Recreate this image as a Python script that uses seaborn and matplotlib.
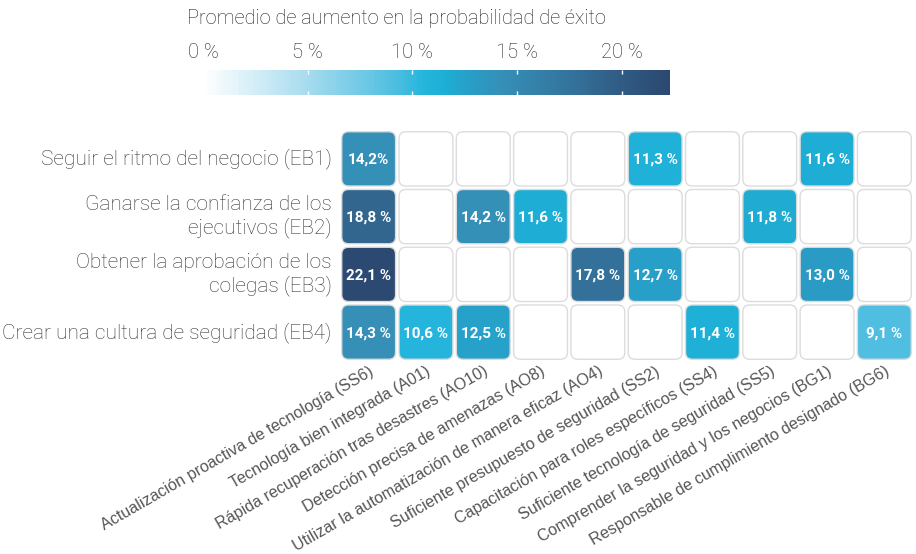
import numpy as np
import pandas as pd
import matplotlib
matplotlib.use("Agg")
import matplotlib.pyplot as plt
from matplotlib.colors import LinearSegmentedColormap
from matplotlib.patches import FancyBboxPatch
import seaborn as sns

rows = ["Seguir el ritmo del negocio (EB1)",
        "Ganarse la confianza de los\nejecutivos (EB2)",
        "Obtener la aprobación de los\ncolegas (EB3)",
        "Crear una cultura de seguridad (EB4)"]
cols = ["Actualización proactiva de tecnología (SS6)",
        "Tecnología bien integrada (A01)",
        "Rápida recuperación tras desastres (AO10)",
        "Detección precisa de amenazas (AO8)",
        "Utilizar la automatización de manera eficaz (AO4)",
        "Suficiente presupuesto de seguridad (SS2)",
        "Capacitación para roles específicos (SS4)",
        "Suficiente tecnología de seguridad (SS5)",
        "Comprender la seguridad y los negocios (BG1)",
        "Responsable de cumplimiento designado (BG6)"]
nan = np.nan
eb1 = [14.2, nan, nan, nan, nan, 11.3, nan, nan, 11.6, nan]
eb2 = [18.8, nan, 14.2, 11.6, nan, nan, nan, 11.8, nan, nan]
eb3 = [22.1, nan, nan, nan, 17.8, 12.7, nan, nan, 13.0, nan]
eb4 = [14.3, 10.6, 12.5, nan, nan, nan, 11.4, nan, nan, 9.1]
label_overrides = {(0, 0): "14,2%"}
cbar_ticks = [0, 5, 10, 15, 20]
cbar_title = "Promedio de aumento en la probabilidad de éxito"

VMAX = 22.3
nodes = [(0, "#ffffff"), (5, "#a6dbee"), (9, "#52bfe1"), (10.5, "#26b6dc"),
         (11.5, "#1dafd6"), (13, "#2a9bc4"), (14.2, "#3590b8"),
         (17.8, "#33719a"), (18.8, "#32668e"), (VMAX, "#2c4870")]
cmap = LinearSegmentedColormap.from_list("c", [(v / VMAX, c) for v, c in nodes])

df = pd.DataFrame([eb1, eb2, eb3, eb4], index=rows, columns=cols)

plt.rcParams['font.family'] = ['Roboto', 'DejaVu Sans']
fig = plt.figure(figsize=(9.16, 5.54), dpi=100)
ax = fig.add_axes([340 / 916, 1 - 361 / 554, 573 / 916, 231 / 554])
cax = fig.add_axes([203 / 916, 1 - 95 / 554, 467 / 916, 25 / 554])

sns.heatmap(df, ax=ax, cmap=cmap, vmin=0, vmax=VMAX, cbar=True, cbar_ax=cax,
            cbar_kws={"orientation": "horizontal", "ticks": cbar_ticks})

mesh = ax.collections[0]
fc = mesh.get_facecolors()
mesh.set_visible(False)
nr, nc = df.shape
vals = df.values
gap = 0.03
for i in range(nr):
    for j in range(nc):
        v = vals[i, j]
        if np.isnan(v):
            face = "white"
        else:
            face = fc[i * nc + j]
        p = FancyBboxPatch((j + gap, i + gap), 1 - 2 * gap, 1 - 2 * gap,
                           boxstyle="round,pad=0,rounding_size=0.12",
                           facecolor=face, edgecolor="#dcdcdc", linewidth=1.0,
                           mutation_aspect=1)
        ax.add_patch(p)
        if not np.isnan(v):
            txt = label_overrides.get((i, j), f"{v:.1f} %".replace(".", ","))
            ax.text(j + 0.5, i + 0.52, txt, ha="center", va="center",
                    color="white", fontsize=11, fontweight="bold")

ax.set_xlabel("")
ax.set_ylabel("")
ax.tick_params(axis="both", length=0)
ax.set_yticklabels(rows, rotation=0, fontsize=15, color="#333333",
                   ha="right", multialignment="right", fontweight="light")
ax.tick_params(axis="y", pad=6)
ax.set_xticklabels(cols, rotation=30, ha="right", rotation_mode="anchor",
                   fontsize=11.6, color="#555555", family="Liberation Sans")
ax.tick_params(axis="x", pad=2)
for s in ax.spines.values():
    s.set_visible(False)

cax.xaxis.set_ticks_position("both")
cax.tick_params(axis="x", direction="in", color="white", length=3, width=1,
                labeltop=True, labelbottom=False, top=True, bottom=True,
                labelsize=14.5, labelcolor="#222222", pad=6)
cax.set_xticklabels([f"{t} %" for t in cbar_ticks], fontweight="light")
for s in cax.spines.values():
    s.set_visible(False)
cax.collections[0].set_edgecolor("face")

fig.text(187 / 916, 1 - 18 / 554, cbar_title, ha="left", va="center",
         fontsize=14.4, color="#222222", fontweight="light")

fig.savefig("out.png", dpi=100, facecolor="white")
